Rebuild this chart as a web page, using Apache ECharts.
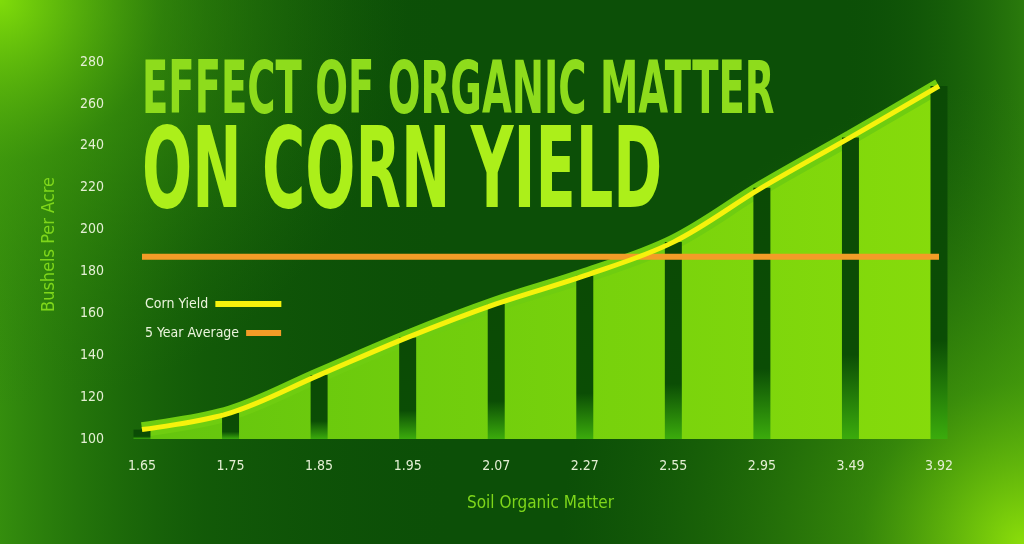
<!DOCTYPE html>
<html>
<head>
<meta charset="utf-8">
<script src="https://cdn.jsdelivr.net/npm/echarts@6/dist/echarts.min.js"></script>
<style>
html,body{margin:0;padding:0;background:#0c4f07;}
#c{width:1024px;height:544px;}
</style>
</head>
<body>
<div id="c"></div>
<script>
// ---- data ----
const organicMatter = ['1.65','1.75','1.85','1.95','2.07','2.27','2.55','2.95','3.49','3.92'];
const cornYield = [104.5, 112.5, 130.5, 148.5, 164.5, 178, 194, 220, 244, 268.5];
const fiveYearAverage = [187, 187, 187, 187, 187, 187, 187, 187, 187, 187];
const yTicks = { min: 100, max: 280, step: 20 };
const titleLine1 = 'EFFECT OF ORGANIC MATTER';
const titleLine2 = 'ON CORN YIELD';

// stripes start at the bottom of the value axis (stack on an invisible base)
const stripeBase = cornYield.map(() => yTicks.min);
const stripeRise = cornYield.map(v => v - yTicks.min);

const NARROW = '"DejaVu Sans Condensed","Liberation Sans Narrow",sans-serif';
const chart = echarts.init(document.getElementById('c'), null, {renderer:'canvas'});

const option = {
  backgroundColor: '#0c4f07',
  animation: false,
  graphic: [
    { type:'rect', z:-10, silent:true, shape:{x:0,y:0,width:1024,height:544},
      style:{ fill:{ type:'linear', x:0, y:0, x2:1, y2:0, colorStops:[
        {offset:0, color:'rgba(55,145,14,0.95)'},
        {offset:0.2, color:'rgba(30,110,10,0.35)'},
        {offset:0.45, color:'rgba(12,79,7,0)'},
        {offset:0.82, color:'rgba(12,79,7,0)'},
        {offset:1, color:'rgba(55,140,14,0.7)'} ]}}},
    { type:'rect', z:-9, silent:true, shape:{x:0,y:0,width:1024,height:544},
      style:{ fill:{ type:'radial', x:0, y:0, r:0.75, colorStops:[
        {offset:0, color:'rgba(128,220,10,1)'},
        {offset:0.4, color:'rgba(70,160,12,0.5)'},
        {offset:1, color:'rgba(40,120,10,0)'} ]}}},
    { type:'rect', z:-9, silent:true, shape:{x:0,y:0,width:1024,height:544},
      style:{ fill:{ type:'radial', x:1, y:1, r:0.85, colorStops:[
        {offset:0, color:'rgba(140,222,10,1)'},
        {offset:0.35, color:'rgba(80,170,12,0.6)'},
        {offset:1, color:'rgba(40,120,10,0)'} ]}}},
    { type:'text', z:100, x:142, y:58, scaleX:0.84, scaleY:1.42, silent:true,
      style:{ text:titleLine1, font:'bold 51px '+NARROW, fill:'#8edc1c', textVerticalAlign:'top' }},
    { type:'text', z:100, x:142, y:122, scaleX:0.83, scaleY:1.413, silent:true,
      style:{ text:titleLine2, font:'bold 79px '+NARROW, fill:'#acef1a', textVerticalAlign:'top' }}
  ],
  legend: [
    { data:['Corn Yield'], left:145, top:297, padding:0, orient:'vertical', align:'right', icon:'rect',
      itemWidth:66, itemHeight:6, textStyle:{color:'#eaf4dc', fontSize:14, fontFamily:NARROW, padding:[0,2,0,0]} },
    { data:['5 Year Average'], left:145, top:326, padding:0, orient:'vertical', align:'right', icon:'rect',
      itemWidth:35, itemHeight:6, textStyle:{color:'#eaf4dc', fontSize:14, fontFamily:NARROW, padding:[0,2,0,0]} }
  ],
  grid: { left:142, right:85, top:62, bottom:105 },
  xAxis: {
    type:'category', data:organicMatter, boundaryGap:false,
    axisLine:{show:false}, axisTick:{show:false}, splitLine:{show:false},
    axisLabel:{ color:'#e4efd4', fontSize:14, fontFamily:NARROW, margin:20 },
    name:'Soil Organic Matter', nameLocation:'middle', nameGap:56,
    nameTextStyle:{ color:'#7ed61a', fontSize:17, fontFamily:NARROW }
  },
  yAxis: {
    type:'value', min:yTicks.min, max:yTicks.max, interval:yTicks.step,
    axisLine:{show:false}, axisTick:{show:false}, splitLine:{show:false},
    axisLabel:{ color:'#e4efd4', fontSize:14, fontFamily:NARROW, margin:38 },
    name:'Bushels Per Acre', nameLocation:'middle', nameGap:84, nameRotate:90,
    nameTextStyle:{ color:'#7ed61a', fontSize:18, fontFamily:NARROW, padding:[0,0,0,12] }
  },
  series: [
    { name:'Yield fill', type:'line', z:1, data:cornYield, smooth:0.35, symbol:'none', silent:true,
      lineStyle:{ width:15, color:'#6fcd10' },
      areaStyle:{ opacity:1, color:{ type:'linear', x:0, y:0, x2:1, y2:0, colorStops:[
        {offset:0, color:'#64c50e'}, {offset:1, color:'#86db0b'} ]}} },
    { name:'Stripe base', type:'bar', z:3, stack:'stripes', data:stripeBase, barWidth:17, clip:false, silent:true,
      itemStyle:{ color:'rgba(0,0,0,0)' } },
    { name:'Yield stripes', type:'bar', z:3, stack:'stripes', data:stripeRise, barWidth:17, clip:false, silent:true,
      itemStyle:{ color:{ type:'linear', x:0, y:0, x2:0, y2:1, colorStops:[
        {offset:0, color:'#0b4a05'}, {offset:0.72, color:'#0b4d05'}, {offset:1, color:'#3bab0c'} ]}} },
    { name:'5 Year Average', type:'line', z:4, data:fiveYearAverage, symbol:'none', silent:true,
      color:'#f39c27', lineStyle:{ width:6, color:'#f39c27' } },
    { name:'Corn Yield', type:'line', z:5, data:cornYield, smooth:0.35, symbol:'none', silent:true,
      color:'#f6f20c', lineStyle:{ width:5, color:'#f6f20c' } }
  ]
};
chart.setOption(option);
</script>
</body>
</html>
